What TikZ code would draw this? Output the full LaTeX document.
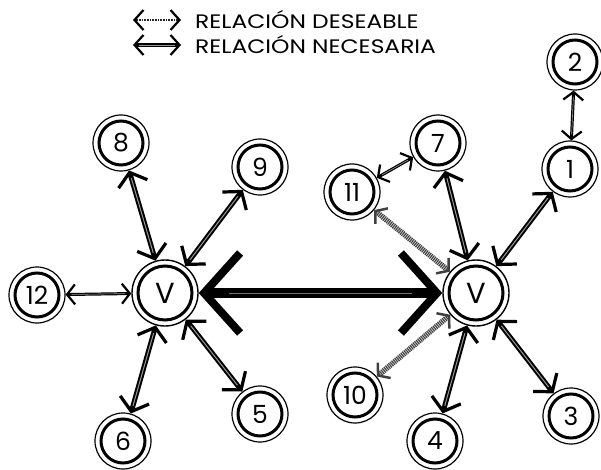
\documentclass[tikz,border=0pt]{standalone}
\usepackage{fontspec}
\setmainfont{Poppins}
\newfontfamily\legfont{Poppins}[FakeStretch=1.2]
\usetikzlibrary{arrows.meta}

\tikzset{
  ring/.style={circle, draw, line width=3pt, minimum size=#1},
  sat/.style={circle, draw, line width=1.2pt, minimum size=56pt, inner sep=0pt,
    font=\fontsize{25}{25}\selectfont, label={[ring=44pt]center:}},
  hub/.style={circle, draw, line width=1.4pt, minimum size=66pt, inner sep=0pt,
    font=\fontsize{29}{29}\selectfont, label={[ring=54pt]center:}},
  need/.style={line width=5pt,
    {Straight Barb[length=12pt,width=30pt,line width=3.2pt]}-{Straight Barb[length=12pt,width=30pt,line width=3.2pt]},
    postaction={draw, black!40, line width=1pt, -, shorten <=8pt, shorten >=8pt}},
  weak/.style={line width=3pt,
    {Straight Barb[length=8pt,width=20pt,line width=2.2pt]}-{Straight Barb[length=8pt,width=20pt,line width=2.2pt]},
    postaction={draw, black!40, line width=0.6pt, -, shorten <=6pt, shorten >=6pt}},
  wish/.style={black!75, line width=5.5pt, dash pattern=on 1.2pt off 0.8pt,
    {Straight Barb[length=8pt,width=20pt,line width=2.5pt]}-{Straight Barb[length=8pt,width=20pt,line width=2.5pt]}},
  core/.style={line width=10pt,
    {Straight Barb[length=36pt,width=80pt,line width=8pt]}-{Straight Barb[length=36pt,width=80pt,line width=8pt]},
    postaction={draw, black!55, line width=1pt, -, shorten <=30pt, shorten >=30pt}},
  legtext/.style={anchor=west, inner sep=0pt, font=\legfont\fontsize{19.5}{20}\selectfont},
}

\begin{document}
\begin{tikzpicture}[x=1pt, y=-1pt]
\useasboundingbox (0,0) rectangle (601,470);

% legend
\coordinate (la1) at (133,20);
\coordinate (la2) at (181,20);
\coordinate (lb1) at (133,45);
\coordinate (lb2) at (181,45);
\draw[black!85, line width=2.8pt, dash pattern=on 1pt off 0.6pt,
  {Straight Barb[length=9pt,width=20pt,line width=2.2pt,black]}-{Straight Barb[length=9pt,width=20pt,line width=2.2pt,black]}] (la1) -- (la2);
\draw[line width=4pt,
  {Straight Barb[length=9pt,width=20pt,line width=2.2pt]}-{Straight Barb[length=9pt,width=20pt,line width=2.2pt]},
  postaction={draw, black!40, line width=0.8pt, -, shorten <=6pt, shorten >=6pt}] (lb1) -- (lb2);
\node[legtext] (ldes) at (195,20) {RELACIÓN DESEABLE};
\node[legtext] (lnec) at (195,45) {RELACIÓN NECESARIA};

% hubs
\node[hub] (vL) at (165,293) {V};
\node[hub] (vR) at (476,293) {V};

% left group
\node[sat] (n8)  at (121,143) {8};
\node[sat] (n9)  at (260,167) {9};
\node[sat] (n12) at (37,295)  {12};
\node[sat] (n6)  at (123,441) {6};
\node[sat] (n5)  at (260,414) {5};

% right group
\node[sat] (n7)  at (438,143) {7};
\node[sat] (n11) at (352,192) {11};
\node[sat] (n1)  at (570,169) {1};
\node[sat] (n2)  at (575,62)  {2};
\node[sat] (n10) at (355,395) {10};
\node[sat] (n4)  at (435,441) {4};
\node[sat] (n3)  at (571,416) {3};

% connectors
\draw[core] (vL) -- (vR);
\foreach \s in {n8,n9,n6,n5} \draw[need] (\s) -- (vL);
\foreach \s in {n7,n1,n4,n3} \draw[need] (\s) -- (vR);
\draw[weak] (n12) -- (vL);
\draw[weak] (n11) -- (n7);
\draw[weak] (n2) -- (n1);
\draw[wish] (n11) -- (vR);
\draw[wish] (n10) -- (vR);
\end{tikzpicture}
\end{document}
